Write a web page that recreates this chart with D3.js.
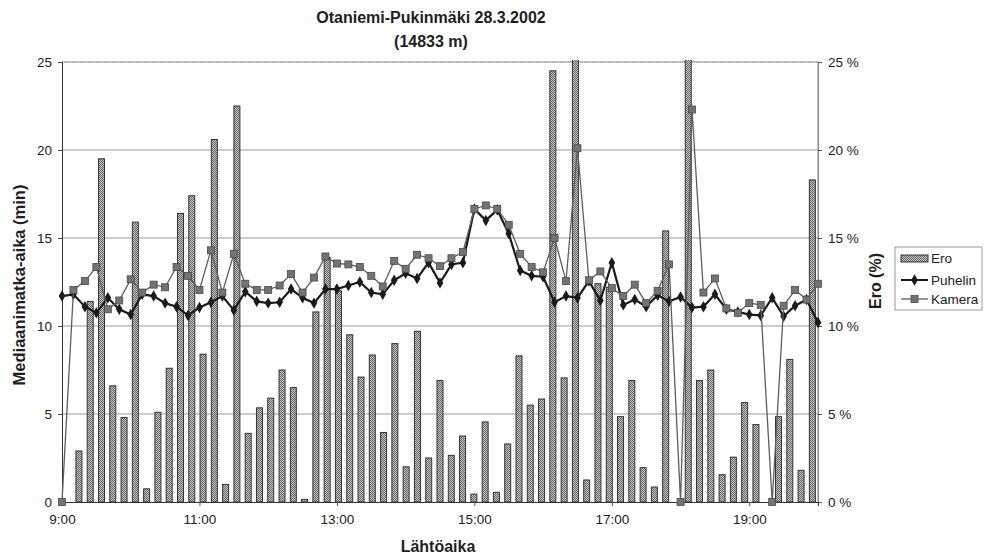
<!DOCTYPE html>
<html>
<head>
<meta charset="utf-8">
<script src="https://cdn.jsdelivr.net/npm/d3@7"></script>
<style>
  html, body { margin: 0; padding: 0; background: #fff; }
  svg { display: block; font-family: "Liberation Sans", Arial, sans-serif; }
</style>
</head>
<body>
<svg id="chart" width="992" height="556"></svg>
<script>
// Departure times, one every ten minutes
const times = [
  "9:00","9:10","9:20","9:30","9:40","9:50",
  "10:00","10:10","10:20","10:30","10:40","10:50",
  "11:00","11:10","11:20","11:30","11:40","11:50",
  "12:00","12:10","12:20","12:30","12:40","12:50",
  "13:00","13:10","13:20","13:30","13:40","13:50",
  "14:00","14:10","14:20","14:30","14:40","14:50",
  "15:00","15:10","15:20","15:30","15:40","15:50",
  "16:00","16:10","16:20","16:30","16:40","16:50",
  "17:00","17:10","17:20","17:30","17:40","17:50",
  "18:00","18:10","18:20","18:30","18:40","18:50",
  "19:00","19:10","19:20","19:30","19:40","19:50",
  "20:00"
];
const tickLabels = ["9:00","11:00","13:00","15:00","17:00","19:00"];

// Median travel time (min), phone based
const puhelin = [
  11.7, 11.8, 11.1, 10.75, 11.6, 10.95, 10.65, 11.8, 11.7, 11.3,
  11.1, 10.6, 11.05, 11.35, 11.7, 10.9, 11.95, 11.4, 11.3, 11.35,
  12.1, 11.6, 11.3, 12.1, 12.1, 12.3, 12.5, 11.9, 11.8, 12.6,
  13.0, 12.7, 13.6, 12.45, 13.5, 13.6, 16.65, 16.0, 16.6, 15.25,
  13.15, 12.85, 12.8, 11.35, 11.7, 11.6, 12.55, 11.45, 13.6, 11.2,
  11.5, 11.1, 11.75, 11.4, 11.65, 11.05, 11.1, 11.8, 10.95, 10.8,
  10.65, 10.6, 11.6, 10.55, 11.15, 11.5, 10.2
];

// Median travel time (min), camera based
const kamera = [
  0, 12.05, 12.55, 13.35, 10.95, 11.45, 12.65, 11.9, 12.35, 12.2,
  13.35, 12.85, 12.05, 14.3, 11.9, 14.1, 12.4, 12.05, 12.05, 12.3,
  12.95, 11.9, 12.75, 13.95, 13.55, 13.5, 13.35, 12.85, 12.25, 13.7,
  13.25, 14.05, 13.85, 13.4, 13.85, 14.2, 16.65, 16.85, 16.65, 15.75,
  14.1, 13.35, 13.05, 15.0, 12.55, 20.1, 12.6, 13.1, 12.15, 11.7,
  12.35, 11.3, 12.0, 13.5, 0, 22.3, 11.9, 12.7, 11.0, 10.75,
  11.3, 11.2, 0, 11.15, 12.05, 11.5, 12.4
];

// Difference between the two methods (%)
const ero = [
  0, 2.9, 11.4, 19.5, 6.6, 4.8, 15.9, 0.75, 5.1, 7.6,
  16.4, 17.4, 8.4, 20.6, 1.0, 22.5, 3.9, 5.35, 5.9, 7.5,
  6.5, 0.15, 10.8, 13.9, 12.0, 9.5, 7.1, 8.35, 3.95, 9.0,
  2.0, 9.7, 2.5, 6.9, 2.65, 3.75, 0.45, 4.55, 0.55, 3.3,
  8.3, 5.5, 5.85, 24.5, 7.05, 42, 1.25, 12.4, 12.2, 4.85,
  6.9, 1.95, 0.85, 15.4, 0, 50, 6.9, 7.5, 1.55, 2.55,
  5.65, 4.4, 0, 4.85, 8.1, 1.8, 18.3
];

const leftTicks = [0, 5, 10, 15, 20, 25];

const svg = d3.select("#chart");
const L = 62, R = 818, T = 62, B = 502;

const xBand = d3.scaleBand().domain(times).range([L, R]);
const xPoint = d3.scalePoint().domain(times).range([L, R]);
const y = d3.scaleLinear().domain([0, 25]).range([B, T]);
const yR = d3.scaleLinear().domain([0, 25]).range([B, T]);

// dotted fill used for the bars
const defs = svg.append("defs");
const pat = defs.append("pattern").attr("id", "dots")
  .attr("width", 2).attr("height", 2).attr("patternUnits", "userSpaceOnUse");
pat.append("rect").attr("width", 2).attr("height", 2).attr("fill", "#c4c4c4");
pat.append("rect").attr("width", 1).attr("height", 1).attr("fill", "#676767");
pat.append("rect").attr("x", 1).attr("y", 1).attr("width", 1).attr("height", 1).attr("fill", "#676767");
defs.append("clipPath").attr("id", "plotClip")
  .append("rect").attr("x", L).attr("y", T - 2).attr("width", R - L).attr("height", B - T + 2);

// gridlines
svg.append("g")
  .selectAll("line").data(leftTicks.slice(1))
  .join("line")
  .attr("x1", L).attr("x2", R)
  .attr("y1", d => y(d)).attr("y2", d => y(d))
  .attr("stroke", "#9a9a9a").attr("stroke-width", 1);

// plot frame
svg.append("line").attr("x1", R).attr("x2", R).attr("y1", T).attr("y2", B)
  .attr("stroke", "#8a8a8a");
svg.append("line").attr("x1", L).attr("x2", R).attr("y1", T).attr("y2", T)
  .attr("stroke", "#8a8a8a").attr("stroke-dasharray", "1,1");

// bars (Ero, right axis)
const barW = 6;
svg.append("g").attr("clip-path", "url(#plotClip)")
  .selectAll("rect").data(ero)
  .join("rect")
  .attr("x", (d, i) => xBand(times[i]) + xBand.bandwidth() / 2 - barW / 2)
  .attr("width", barW)
  .attr("y", d => yR(d))
  .attr("height", d => B - yR(d))
  .attr("fill", "url(#dots)")
  .attr("stroke", "#333").attr("stroke-width", 1)
  .attr("display", d => d > 0 ? null : "none");

// axes
const axL = svg.append("g").attr("transform", `translate(${L},0)`)
  .call(d3.axisLeft(y).tickValues(leftTicks).tickSize(4).tickPadding(6));
const axR = svg.append("g").attr("transform", `translate(${R},0)`)
  .call(d3.axisRight(yR).tickValues(leftTicks).tickSize(4).tickPadding(6).tickFormat(d => d + " %"));
const axB = svg.append("g").attr("transform", `translate(0,${B})`)
  .call(d3.axisBottom(xPoint).tickValues(tickLabels).tickSize(4).tickPadding(8));
[axL, axR, axB].forEach(a => {
  a.selectAll("text").attr("font-size", 13.5).attr("fill", "#222")
    .attr("font-family", "'Liberation Sans', Arial, sans-serif");
  a.selectAll("line").attr("stroke", "#555");
});
axL.select(".domain").attr("stroke", "#333");
axR.select(".domain").attr("stroke", "#8a8a8a");
axB.select(".domain").attr("stroke", "#333");

// lines
const lineGen = d3.line()
  .x((d, i) => xPoint(times[i]))
  .y(d => y(d));

svg.append("path").datum(puhelin)
  .attr("d", lineGen).attr("fill", "none")
  .attr("stroke", "#1a1a1a").attr("stroke-width", 2.2);
svg.append("g").selectAll("path").data(puhelin)
  .join("path")
  .attr("transform", (d, i) => `translate(${xPoint(times[i])},${y(d)})`)
  .attr("d", d3.symbol(d3.symbolDiamond, 38))
  .attr("fill", "#1a1a1a");

svg.append("path").datum(kamera)
  .attr("d", lineGen).attr("fill", "none")
  .attr("stroke", "#5e5e5e").attr("stroke-width", 1.3);
svg.append("g").selectAll("rect").data(kamera)
  .join("rect")
  .attr("x", (d, i) => xPoint(times[i]) - 3.5)
  .attr("y", d => y(d) - 3.5)
  .attr("width", 7).attr("height", 7)
  .attr("fill", "#737373").attr("stroke", "#4a4a4a").attr("stroke-width", 0.8);

// titles
function txt(x, yy, s, size, rot) {
  const t = svg.append("text").attr("x", x).attr("y", yy)
    .attr("text-anchor", "middle")
    .attr("font-weight", "bold").attr("font-size", size).attr("fill", "#1e1e1e")
    .text(s);
  if (rot) t.attr("transform", `rotate(-90,${x},${yy})`);
  return t;
}
txt(431, 23, "Otaniemi-Pukinmäki 28.3.2002", 16);
txt(431, 47, "(14833 m)", 16);
txt(438, 552, "Lähtöaika", 16);
txt(25, 285, "Mediaanimatka-aika (min)", 16.5, true);
txt(881, 281, "Ero (%)", 16, true);

// legend
const lg = svg.append("g");
lg.append("rect").attr("x", 895).attr("y", 247).attr("width", 87).attr("height", 63)
  .attr("fill", "#fff").attr("stroke", "#999");
lg.append("rect").attr("x", 901).attr("y", 255).attr("width", 27).attr("height", 7)
  .attr("fill", "url(#dots)").attr("stroke", "#333");
lg.append("line").attr("x1", 901).attr("x2", 928).attr("y1", 280).attr("y2", 280)
  .attr("stroke", "#1a1a1a").attr("stroke-width", 2);
lg.append("path").attr("transform", "translate(914.5,280)")
  .attr("d", d3.symbol(d3.symbolDiamond, 38)).attr("fill", "#1a1a1a");
lg.append("line").attr("x1", 901).attr("x2", 928).attr("y1", 299).attr("y2", 299)
  .attr("stroke", "#5e5e5e").attr("stroke-width", 1.3);
lg.append("rect").attr("x", 911).attr("y", 295.5).attr("width", 7).attr("height", 7)
  .attr("fill", "#737373").attr("stroke", "#4a4a4a").attr("stroke-width", 0.8);
[["Ero", 263], ["Puhelin", 284.5], ["Kamera", 304]].forEach(([s, yy]) => {
  lg.append("text").attr("x", 931).attr("y", yy).attr("font-size", 13.5)
    .attr("fill", "#222").text(s);
});
</script>
</body>
</html>
